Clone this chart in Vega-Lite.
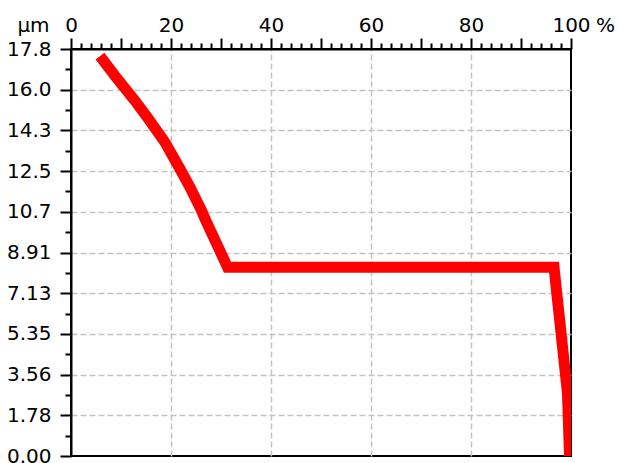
{
  "$schema": "https://vega.github.io/schema/vega-lite/v6.json",
  "width": 500,
  "height": 407,
  "autosize": "none",
  "padding": {"left": 71, "top": 49, "right": 48, "bottom": 7},
  "background": "white",
  "config": {
    "view": {"stroke": "black", "strokeWidth": 2},
    "font": "DejaVu Sans",
    "axis": {
      "labelFont": "DejaVu Sans",
      "labelFontSize": 20,
      "labelColor": "black",
      "titleFont": "DejaVu Sans",
      "titleFontSize": 20,
      "titleFontWeight": "normal",
      "titleColor": "black",
      "domainColor": "black",
      "domainWidth": 2,
      "tickColor": "black",
      "tickWidth": 2,
      "gridColor": "#c4c4c4",
      "gridDash": [6, 3],
      "gridWidth": 1.5
    }
  },
  "data": {
    "values": [
      {"n": 1, "pct": 5.8, "um": 17.52},
      {"n": 2, "pct": 8.8, "um": 16.65},
      {"n": 3, "pct": 12.8, "um": 15.56},
      {"n": 4, "pct": 15.5, "um": 14.76},
      {"n": 5, "pct": 18.8, "um": 13.74},
      {"n": 6, "pct": 21.8, "um": 12.57},
      {"n": 7, "pct": 23.8, "um": 11.77},
      {"n": 8, "pct": 26.1, "um": 10.75},
      {"n": 9, "pct": 26.8, "um": 10.39},
      {"n": 10, "pct": 31.3, "um": 8.27},
      {"n": 11, "pct": 96.6, "um": 8.27},
      {"n": 12, "pct": 99.3, "um": 2.74},
      {"n": 13, "pct": 99.7, "um": 0}
    ]
  },
  "resolve": {"axis": {"x": "independent", "y": "independent"}},
  "layer": [
    {
      "mark": {"type": "line", "color": "#ff0000", "strokeWidth": 11, "strokeJoin": "miter", "strokeCap": "butt", "clip": true},
      "encoding": {
        "x": {
          "field": "pct", "type": "quantitative",
          "scale": {"domain": [0, 100], "nice": false, "zero": false},
          "axis": {
            "orient": "top",
            "values": [0, 10, 20, 30, 40, 50, 60, 70, 80, 90, 100],
            "labelExpr": "datum.value % 20 == 0 ? datum.value : ''",
            "labelBaseline": "alphabetic",
            "labelPadding": 7,
            "labelFlush": false,
            "labelOverlap": false,
            "tickSize": 11,
            "grid": true,
            "gridOpacity": {"condition": {"test": "datum.value % 20 != 0 || datum.value == 0 || datum.value == 100", "value": 0}, "value": 1},
            "title": "%",
            "titleAngle": 0,
            "titleAlign": "center",
            "titleBaseline": "alphabetic",
            "titleX": 534,
            "titleY": -18
          }
        },
        "y": {
          "field": "um", "type": "quantitative",
          "scale": {"domain": [0, 17.83], "nice": false, "zero": false},
          "axis": {
            "orient": "left",
            "values": [0, 1.783, 3.566, 5.349, 7.132, 8.915, 10.698, 12.481, 14.264, 16.047, 17.83],
            "labelExpr": "['0.00','1.78','3.56','5.35','7.13','8.91','10.7','12.5','14.3','16.0','17.8'][round(datum.value / 1.783)]",
            "labelBaseline": "middle",
            "labelPadding": 9,
            "labelFlush": false,
            "labelOverlap": false,
            "tickSize": 11,
            "grid": true,
            "gridOpacity": {"condition": {"test": "datum.value < 0.5 || datum.value > 17.5", "value": 0}, "value": 1},
            "title": "µm",
            "titleAngle": 0,
            "titleAlign": "center",
            "titleBaseline": "alphabetic",
            "titleX": -38,
            "titleY": -18
          }
        },
        "order": {"field": "n", "type": "quantitative"}
      }
    },
    {
      "mark": {"type": "line", "opacity": 0},
      "encoding": {
        "x": {
          "field": "pct", "type": "quantitative",
          "axis": {
            "orient": "top",
            "values": [2, 4, 6, 8, 12, 14, 16, 18, 22, 24, 26, 28, 32, 34, 36, 38, 42, 44, 46, 48, 52, 54, 56, 58, 62, 64, 66, 68, 72, 74, 76, 78, 82, 84, 86, 88, 92, 94, 96, 98],
            "labels": false,
            "domain": false,
            "grid": false,
            "tickSize": 6,
            "title": null
          }
        },
        "y": {
          "field": "um", "type": "quantitative",
          "axis": {
            "orient": "left",
            "values": [0.8915, 2.6745, 4.4575, 6.2405, 8.0235, 9.8065, 11.5895, 13.3725, 15.1555, 16.9385],
            "labels": false,
            "domain": false,
            "grid": false,
            "tickSize": 6,
            "title": null
          }
        },
        "order": {"field": "n", "type": "quantitative"}
      }
    }
  ]
}
